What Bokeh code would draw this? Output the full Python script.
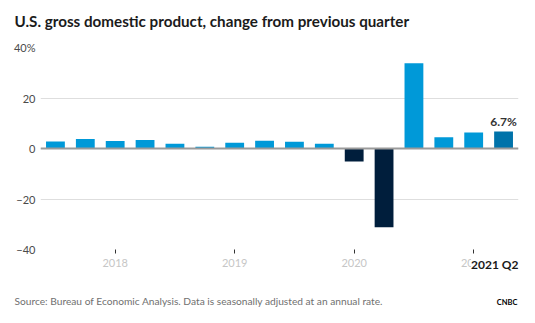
from bokeh.plotting import figure
from bokeh.models import ColumnDataSource, Range1d, FixedTicker, Span, Label, Title
from bokeh.embed import file_html
from bokeh.resources import INLINE

# ---- data ----
quarters = ["2017 Q3", "2017 Q4", "2018 Q1", "2018 Q2", "2018 Q3", "2018 Q4",
            "2019 Q1", "2019 Q2", "2019 Q3", "2019 Q4", "2020 Q1", "2020 Q2",
            "2020 Q3", "2020 Q4", "2021 Q1", "2021 Q2"]
gdp_change = [2.8, 3.8, 3.0, 3.4, 1.9, 0.7, 2.3, 3.1, 2.7, 1.9,
              -5.1, -31.2, 33.8, 4.5, 6.3, 6.7]
year_tick_quarters = ["2018 Q1", "2019 Q1", "2020 Q1", "2021 Q1"]
year_labels = ["2018", "2019", "2020", "2021"]
y_ticks = [-40, -20, 0, 20, 40]
y_tick_labels = ["\u221240", "\u221220", "0", "20", "40%"]
latest_label = "6.7%"
latest_quarter_label = "2021 Q2"

FONT = "Lato"
POS = "#0099d8"
NEG = "#001e3c"
LAST = "#0073aa"

W, H = 535, 323
N = len(quarters)

xs = list(range(N))
colors = []
for i, v in enumerate(gdp_change):
    if i == N - 1:
        colors.append(LAST)
    elif v < 0:
        colors.append(NEG)
    else:
        colors.append(POS)

src = ColumnDataSource(dict(x=xs, top=gdp_change, q=quarters, color=colors))

p = figure(width=W, height=H, output_backend="svg", toolbar_location=None,
           x_range=Range1d(-0.5, N - 0.5), y_range=Range1d(-40, 40),
           min_border_left=40, min_border_right=17, min_border_top=47,
           min_border_bottom=74, outline_line_color=None,
           background_fill_color="white", border_fill_color="white")

p.vbar(x="x", top="top", bottom=0, width=0.63, color="color", line_color=None, source=src)

p.add_layout(Span(location=0, dimension="width", line_color="#9a9a9a", line_width=2))

# y axis
p.yaxis.ticker = FixedTicker(ticks=y_ticks)
p.yaxis.major_label_overrides = {t: l for t, l in zip(y_ticks, y_tick_labels)}
p.yaxis.axis_line_color = None
p.yaxis.major_tick_line_color = None
p.yaxis.minor_tick_line_color = None
p.yaxis.major_tick_out = 0
p.yaxis.major_tick_in = 0
p.yaxis.major_label_standoff = 5
p.yaxis.major_label_text_font = FONT
p.yaxis.major_label_text_font_size = "11px"
p.yaxis.major_label_text_color = "#4a4a4a"

# x axis
x_ticks = [quarters.index(q) for q in year_tick_quarters]
p.xaxis.ticker = FixedTicker(ticks=x_ticks)
p.xaxis.major_label_overrides = {t: l for t, l in zip(x_ticks, year_labels)}
p.xaxis.axis_line_color = None
p.xaxis.major_tick_in = 0
p.xaxis.major_tick_out = 4
p.xaxis.major_tick_line_color = "#333333"
p.xaxis.minor_tick_line_color = None
p.xaxis.major_label_standoff = 5
p.xaxis.major_label_text_font = FONT
p.xaxis.major_label_text_font_size = "11px"
p.xaxis.major_label_text_color = "#c6c6c6"

# grid
p.xgrid.grid_line_color = None
p.ygrid.ticker = FixedTicker(ticks=y_ticks)
p.ygrid.grid_line_color = "#dedede"
p.ygrid.grid_line_width = 1

# value label on last bar
p.add_layout(Label(x=xs[-1], y=gdp_change[-1], text=latest_label, text_align="center",
                   text_baseline="bottom", y_offset=3, text_font=FONT,
                   text_font_style="bold", text_font_size="12px", text_color="#333333"))

# latest quarter label below axis
t_q = Title(text=latest_quarter_label, align="right", offset=0, standoff=-26,
            vertical_align="top",
            text_font=FONT, text_font_style="bold", text_font_size="12px",
            text_color="#1a1a1a", background_fill_color="white")
p.add_layout(t_q, "below")

# source
t_src = Title(text="Source: Bureau of Economic Analysis. Data is seasonally adjusted at an annual rate.",
              align="left", offset=-26, standoff=-74, vertical_align="bottom",
              text_font=FONT, text_font_style="normal",
              text_font_size="10.2px", text_color="#707070")
p.add_layout(t_src, "below")

# logo wordmark
t_logo = Title(text="CNBC", align="right", offset=1, standoff=-75, vertical_align="bottom",
               text_font=FONT, text_font_style="bold", text_font_size="7.5px", text_color="#000000")
p.add_layout(t_logo, "below")

# spacer between title and plot area
t_space = Title(text=" ", standoff=12, text_font_size="2px", text_color="white")
p.add_layout(t_space, "above")

# title
t_main = Title(text="U.S. gross domestic product, change from previous quarter",
               align="left", offset=-26, standoff=0, vertical_align="top",
               text_font=FONT, text_font_style="bold",
               text_font_size="15.2px", text_color="#1b1b1b")
p.add_layout(t_main, "above")

open("out.html", "w").write(file_html(p, INLINE))
